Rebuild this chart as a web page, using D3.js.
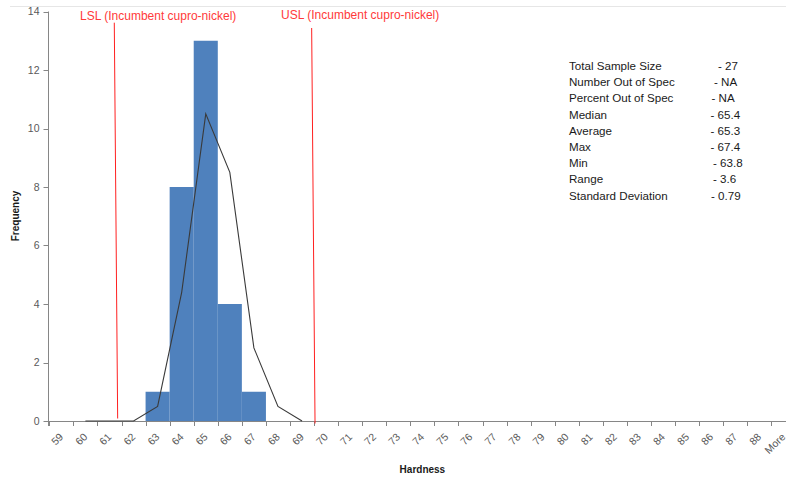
<!DOCTYPE html>
<html>
<head>
<meta charset="utf-8">
<script src="https://cdn.jsdelivr.net/npm/d3@7/dist/d3.min.js"></script>
<style>
  html, body { margin: 0; padding: 0; background: #fff; }
  svg { display: block; font-family: "Liberation Sans", Arial, sans-serif; }
</style>
</head>
<body>
<svg id="chart" width="786" height="477"></svg>
<script>
// ---- data ----
const categories = ["59","60","61","62","63","64","65","66","67","68","69","70","71","72","73","74","75","76","77","78","79","80","81","82","83","84","85","86","87","88","More"];
const frequency  = [0,0,0,0,1,8,13,4,1,0,0,0,0,0,0,0,0,0,0,0,0,0,0,0,0,0,0,0,0,0,0];
const normalCats = ["60","61","62","63","64","65","66","67","68","69"];
const normalVals = [0,0,0,0.5,4.4,10.5,8.5,2.5,0.5,0];
const yTicks = [0,2,4,6,8,10,12,14];
const specLabels = ["LSL (Incumbent cupro-nickel)", "USL (Incumbent cupro-nickel)"];
const specTop    = [61.20, 69.40];   // hardness value at top of line
const specBottom = [61.34, 69.54];   // hardness value at bottom of line
const statLabels = ["Total Sample Size","Number Out of Spec","Percent Out of Spec","Median","Average","Max","Min","Range","Standard Deviation"];
const statValues = ["- 27","- NA","- NA","- 65.4","- 65.3","- 67.4","- 63.8","- 3.6","- 0.79"];

// ---- layout ----
const left = 49.3, bw = 24.07;
const right = left + bw * categories.length;
const y0 = 421, yTop = 11.5;
const statValueX = [718, 714, 711.5, 710.5, 710.5, 710.5, 713, 713, 711];

const svg = d3.select("#chart");

const x = d3.scaleBand().domain(categories).range([left, right]).padding(0);
const xv = d3.scaleLinear().domain([58.5, 58.5 + categories.length]).range([left, right]);
const y = d3.scaleLinear().domain([0, 14]).range([y0, yTop]);

// top border
svg.append("line").attr("x1", 10).attr("x2", 786).attr("y1", 6.5).attr("y2", 6.5)
  .attr("stroke", "#e6e6e6").attr("stroke-width", 1);

// bars
svg.append("g").selectAll("rect").data(categories.map((c, i) => ({c, v: frequency[i]})).filter(d => d.v > 0))
  .join("rect")
  .attr("x", d => x(d.c))
  .attr("width", x.bandwidth())
  .attr("y", d => y(d.v))
  .attr("height", d => y(0) - y(d.v))
  .attr("fill", "#4F81BD");

// x axis
const gx = svg.append("g").attr("transform", `translate(0,${y0})`);
gx.append("line").attr("x1", left).attr("x2", right).attr("y1", 0.5).attr("y2", 0.5).attr("stroke", "#868686");
const tickPos = d3.range(categories.length + 1).map(i => left + i * x.step());
gx.selectAll("line.tk").data(tickPos).join("line").attr("class", "tk")
  .attr("x1", d => Math.round(d) + 0.5).attr("x2", d => Math.round(d) + 0.5)
  .attr("y1", 0).attr("y2", 5).attr("stroke", "#868686");
gx.selectAll("text").data(categories).join("text")
  .attr("transform", d => `translate(${x(d) + x.bandwidth() / 2},14) rotate(-45)`)
  .attr("text-anchor", "end").attr("dy", "0.35em")
  .attr("font-size", 10.5).attr("fill", "#595959")
  .text(d => d);

// y axis
const gy = svg.append("g").attr("transform", `translate(${Math.round(left) - 0.5},0)`);
gy.append("line").attr("x1", 0).attr("x2", 0).attr("y1", y(14)).attr("y2", y0 + 5).attr("stroke", "#868686");
gy.selectAll("line.tk").data(yTicks).join("line").attr("class", "tk")
  .attr("x1", -5).attr("x2", 0).attr("y1", d => Math.round(y(d)) + 0.5).attr("y2", d => Math.round(y(d)) + 0.5)
  .attr("stroke", "#868686");
gy.selectAll("text").data(yTicks).join("text")
  .attr("x", -9).attr("y", d => y(d)).attr("dy", "0.35em")
  .attr("text-anchor", "end").attr("font-size", 10.5).attr("fill", "#595959")
  .text(d => d);

// normal curve
const line = d3.line().x(d => x(d.c) + x.bandwidth() / 2).y(d => y(d.v));
svg.append("path").datum(normalCats.map((c, i) => ({c, v: normalVals[i]})))
  .attr("d", line).attr("fill", "none").attr("stroke", "#3a3a3a").attr("stroke-width", 1.1);

// spec lines
const specTopY = [22.7, 28], specBottomY = [418.5, 423.5];
const specLabelX = [80, 281], specLabelY = [16, 15];
specLabels.forEach((lab, i) => {
  svg.append("line")
    .attr("x1", xv(specTop[i])).attr("y1", specTopY[i])
    .attr("x2", xv(specBottom[i])).attr("y2", specBottomY[i])
    .attr("stroke", "#ff2020").attr("stroke-width", 1);
  svg.append("text").attr("x", specLabelX[i]).attr("y", specLabelY[i]).attr("dy", "0.35em")
    .attr("font-size", 12).attr("fill", "#ff3a3a").text(lab);
});

// stats box
const statY0 = 66, statStep = 16.2;
const gs = svg.append("g");
statLabels.forEach((lab, i) => {
  gs.append("text").attr("x", 569).attr("y", statY0 + i * statStep).attr("dy", "0.35em")
    .attr("font-size", 11.6).attr("fill", "#1a1a1a").text(lab);
  gs.append("text").attr("x", statValueX[i]).attr("y", statY0 + i * statStep).attr("dy", "0.35em")
    .attr("font-size", 11.6).attr("fill", "#1a1a1a").text(statValues[i]);
});

// axis titles
svg.append("text").attr("x", (left + right) / 2).attr("y", 469).attr("dy", "0.35em")
  .attr("text-anchor", "middle").attr("font-size", 10).attr("font-weight", "bold").attr("fill", "#1a1a1a")
  .text("Hardness");
svg.append("text").attr("transform", `translate(15,216) rotate(-90)`).attr("dy", "0.35em")
  .attr("text-anchor", "middle").attr("font-size", 10).attr("font-weight", "bold").attr("fill", "#1a1a1a")
  .text("Frequency");
</script>
</body>
</html>
